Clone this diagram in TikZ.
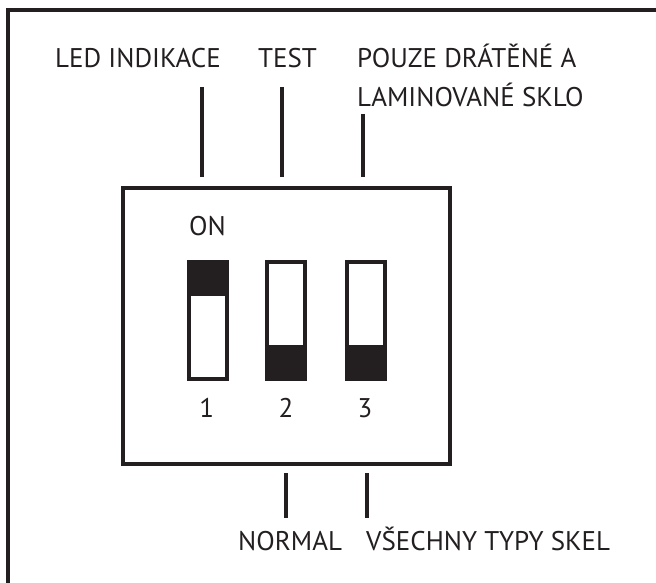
\documentclass[tikz,border=0pt]{standalone}
\usepackage{fontspec}
\setmainfont{PT Sans}
\usetikzlibrary{positioning}
\definecolor{ink}{HTML}{231F20}
\tikzset{
  lbl/.style={inner sep=0pt, anchor=base west, font=\fontsize{27}{32}\selectfont},
  num/.style={inner sep=0pt, anchor=base, font=\fontsize{27}{32}\selectfont},
  lead/.style={line width=3.5pt},
  switchbox/.style={draw, line width=4pt, minimum width=38pt, minimum height=116.7pt, inner sep=0pt},
  knobup/.style={switchbox, path picture={\fill (path picture bounding box.north west) rectangle ([yshift=-34pt]path picture bounding box.north east);}},
  knobdown/.style={switchbox, path picture={\fill (path picture bounding box.south west) rectangle ([yshift=33.7pt]path picture bounding box.south east);}},
}

\begin{document}
\begin{tikzpicture}[x=1pt,y=-1pt,color=ink]
    \useasboundingbox (0,0) rectangle (656,583);
    % outer frame
    \draw[line width=4pt] (8.3,583) -- (8.3,10.3) -- (656,10.3);
    % the switch housing
    \node[draw, line width=4pt, minimum width=327pt, minimum height=276pt, inner sep=0pt] (panel) at (286.5,326) {};
    \node[knobup] (S1) at (207.7,320.3) {};
    \node[knobdown] (S2) at (286.3,320.3) {};
    \node[knobdown] (S3) at (365.7,320.3) {};
    \node[num] (on) at (207.5,235) {ON};
    \node[num] (n1) at (206.7,417) {1};
    \node[num] (n2) at (286,417) {2};
    \node[num] (n3) at (365,417) {3};
    % labels
    \node[lbl] (led) at (55,68) {LED INDIKACE};
    \node[lbl] (test) at (258,68) {TEST};
    \node[lbl] (glass) at (357,68) {POUZE DRÁTĚNÉ A};
    \node[lbl] (glass2) at (357,107) {LAMINOVANÉ SKLO};
    \node[lbl] (normal) at (238,550) {NORMAL};
    \node[lbl] (all) at (366,550) {VŠECHNY TYPY SKEL};
    % lead lines
    \coordinate (ledtop) at (202,87);
    \coordinate (ledend) at (202,177);
    \coordinate (testtop) at (282,87);
    \coordinate (testend) at (282,177);
    \coordinate (glasstop) at (363,114);
    \coordinate (glassend) at (363,177);
    \coordinate (normtop) at (286,473);
    \coordinate (normend) at (286,518);
    \coordinate (alltop) at (367,473);
    \coordinate (allend) at (367,518);
    \draw[lead] (ledtop) -- (ledend);
    \draw[lead] (testtop) -- (testend);
    \draw[lead] (glasstop) -- (glassend);
    \draw[lead] (normtop) -- (normend);
    \draw[lead] (alltop) -- (allend);
\end{tikzpicture}
\end{document}
